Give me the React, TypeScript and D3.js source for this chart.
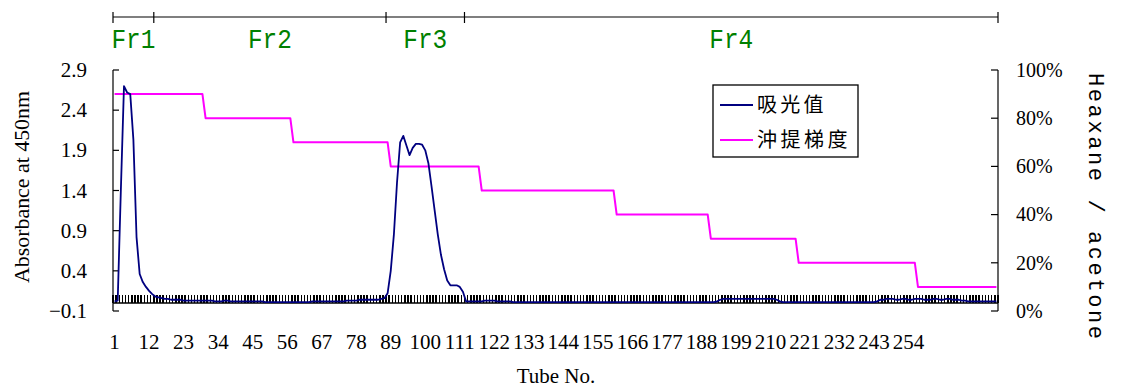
import React from "react";
import * as d3 from "d3";

// Absorbance at 450 nm for each collected tube (tube 1 .. 282)
const absorbance: number[] = [
  0.02, 0.03, 1.40, 2.70, 2.62, 2.60, 2.03, 0.82, 0.36, 0.26,
  0.20, 0.15, 0.11, 0.08, 0.07, 0.06, 0.05, 0.05, 0.04, 0.04,
  0.04, 0.04, 0.03, 0.03, 0.03, 0.03, 0.03, 0.03, 0.03, 0.03,
  0.03, 0.03, 0.02, 0.02, 0.02, 0.03, 0.03, 0.02, 0.02, 0.02,
  0.02, 0.02, 0.02, 0.02, 0.02, 0.02, 0.02, 0.02, 0.01, 0.01,
  0.01, 0.01, 0.01, 0.01, 0.01, 0.01, 0.01, 0.01, 0.01, 0.01,
  0.01, 0.01, 0.01, 0.02, 0.02, 0.02, 0.02, 0.02, 0.02, 0.02,
  0.02, 0.02, 0.02, 0.02, 0.03, 0.03, 0.03, 0.03, 0.04, 0.04,
  0.04, 0.04, 0.04, 0.04, 0.04, 0.05, 0.06, 0.12, 0.40, 0.85,
  1.50, 2.00, 2.08, 1.96, 1.84, 1.93, 1.98, 1.98, 1.97, 1.90,
  1.74, 1.45, 1.15, 0.85, 0.60, 0.42, 0.28, 0.22, 0.22, 0.22,
  0.20, 0.14, 0.02, 0.02, 0.02, 0.02, 0.02, 0.02, 0.03, 0.03,
  0.03, 0.03, 0.02, 0.02, 0.02, 0.02, 0.02, 0.01, 0.01, 0.01,
  0.01, 0.01, 0.01, 0.01, 0.01, 0.01, 0.01, 0.01, 0.01, 0.01,
  0.01, 0.01, 0.01, 0.01, 0.01, 0.01, 0.01, 0.01, 0.01, 0.01,
  0.01, 0.01, 0.01, 0.01, 0.01, 0.01, 0.01, 0.01, 0.01, 0.01,
  0.01, 0.01, 0.01, 0.01, 0.01, 0.01, 0.01, 0.01, 0.01, 0.01,
  0.01, 0.01, 0.01, 0.01, 0.01, 0.01, 0.01, 0.01, 0.01, 0.01,
  0.01, 0.01, 0.01, 0.01, 0.01, 0.01, 0.01, 0.01, 0.01, 0.01,
  0.01, 0.01, 0.02, 0.04, 0.05, 0.05, 0.05, 0.05, 0.05, 0.05,
  0.05, 0.05, 0.05, 0.05, 0.05, 0.05, 0.05, 0.05, 0.05, 0.05,
  0.05, 0.04, 0.02, 0.01, 0.01, 0.01, 0.01, 0.01, 0.01, 0.01,
  0.01, 0.01, 0.01, 0.01, 0.01, 0.01, 0.01, 0.01, 0.01, 0.01,
  0.01, 0.01, 0.01, 0.01, 0.01, 0.01, 0.01, 0.01, 0.01, 0.01,
  0.01, 0.01, 0.01, 0.02, 0.04, 0.04, 0.05, 0.05, 0.05, 0.04,
  0.04, 0.05, 0.05, 0.04, 0.04, 0.05, 0.05, 0.05, 0.04, 0.04,
  0.04, 0.05, 0.05, 0.04, 0.04, 0.05, 0.05, 0.04, 0.04, 0.04,
  0.03, 0.03, 0.02, 0.02, 0.02, 0.02, 0.02, 0.02, 0.02, 0.02,
  0.02, 0.02,
];

// Hexane share of the hexane / acetone eluent for each tube (%)
const gradient: number[] = [
  90, 90, 90, 90, 90, 90, 90, 90, 90, 90,
  90, 90, 90, 90, 90, 90, 90, 90, 90, 90,
  90, 90, 90, 90, 90, 90, 90, 90, 90, 80,
  80, 80, 80, 80, 80, 80, 80, 80, 80, 80,
  80, 80, 80, 80, 80, 80, 80, 80, 80, 80,
  80, 80, 80, 80, 80, 80, 80, 70, 70, 70,
  70, 70, 70, 70, 70, 70, 70, 70, 70, 70,
  70, 70, 70, 70, 70, 70, 70, 70, 70, 70,
  70, 70, 70, 70, 70, 70, 70, 70, 60, 60,
  60, 60, 60, 60, 60, 60, 60, 60, 60, 60,
  60, 60, 60, 60, 60, 60, 60, 60, 60, 60,
  60, 60, 60, 60, 60, 60, 60, 50, 50, 50,
  50, 50, 50, 50, 50, 50, 50, 50, 50, 50,
  50, 50, 50, 50, 50, 50, 50, 50, 50, 50,
  50, 50, 50, 50, 50, 50, 50, 50, 50, 50,
  50, 50, 50, 50, 50, 50, 50, 50, 50, 50,
  40, 40, 40, 40, 40, 40, 40, 40, 40, 40,
  40, 40, 40, 40, 40, 40, 40, 40, 40, 40,
  40, 40, 40, 40, 40, 40, 40, 40, 40, 40,
  30, 30, 30, 30, 30, 30, 30, 30, 30, 30,
  30, 30, 30, 30, 30, 30, 30, 30, 30, 30,
  30, 30, 30, 30, 30, 30, 30, 30, 20, 20,
  20, 20, 20, 20, 20, 20, 20, 20, 20, 20,
  20, 20, 20, 20, 20, 20, 20, 20, 20, 20,
  20, 20, 20, 20, 20, 20, 20, 20, 20, 20,
  20, 20, 20, 20, 20, 20, 10, 10, 10, 10,
  10, 10, 10, 10, 10, 10, 10, 10, 10, 10,
  10, 10, 10, 10, 10, 10, 10, 10, 10, 10,
  10, 10,
];

const tubeTickLabels: number[] = [
  1, 12, 23, 34, 45, 56, 67, 78, 89, 100, 111, 122,
  133, 144, 155, 166, 177, 188, 199, 210, 221, 232, 243, 254,
];

const absTicks: number[] = [-0.1, 0.4, 0.9, 1.4, 1.9, 2.4, 2.9];
const pctTicks: number[] = [0, 20, 40, 60, 80, 100];

// Pooled fractions (first and last tube)
const fractionNames: string[] = ["Fr1", "Fr2", "Fr3", "Fr4"];
const fractionFirst: number[] = [1, 14, 88, 113];
const fractionLast: number[] = [13, 87, 112, 282];

const seriesNames: string[] = ["吸光值", "沖提梯度"];

const BLUE = "#000080";
const MAGENTA = "#ff00ff";
const GREEN = "#008000";
const SERIF = "'Liberation Serif', 'Times New Roman', serif";
const MONO = "'Liberation Mono', 'Courier New', monospace";
const CJK = "'Noto Sans CJK TC', 'Noto Sans CJK SC', sans-serif";

export default function App() {
  const W = 1121;
  const H = 389;
  const left = 113;
  const right = 998;
  const top = 70;
  const bottom = 311;

  const tubes = absorbance.map((_, i) => i + 1);
  const x = d3.scaleBand<number>().domain(tubes).range([left, right]).padding(0);
  const bw = x.bandwidth();
  const cx = (t: number) => (x(t) as number) + bw / 2;

  const yAbs = d3.scaleLinear().domain([-0.1, 2.9]).range([bottom, top]);
  const yPct = d3.scaleLinear().domain([0, 100]).range([bottom, top]);
  const y0 = yAbs(0);

  const absPath = d3
    .line<number>()
    .x((_, i) => cx(tubes[i]))
    .y((d) => yAbs(d))(absorbance) as string;
  const gradPath = d3
    .line<number>()
    .x((_, i) => cx(tubes[i]))
    .y((d) => yPct(d))(gradient) as string;

  const boundaries = tubes.map((t) => x(t) as number).concat([right]);
  const fmt = d3.format(".1f");

  const topAxisY = 17;
  const fracEdges = fractionFirst.map((f, i) => ({
    name: fractionNames[i],
    x0: x(f) as number,
    x1: (x(fractionLast[i]) as number) + bw,
  }));

  return (
    <div style={{ position: "absolute", left: 0, top: 0 }}>
      <svg width={W} height={H} style={{ display: "block", background: "#fff" }}>
        {/* fraction bar */}
        <line x1={left} x2={right} y1={topAxisY} y2={topAxisY} stroke="#000" strokeWidth={1.2} />
        {[fracEdges[0].x0, ...fracEdges.map((f) => f.x1)].map((bx, i) => (
          <line key={"ft" + i} x1={bx} x2={bx} y1={topAxisY - 5} y2={topAxisY + 6} stroke="#000" strokeWidth={1.2} />
        ))}
        {fracEdges.map((f) => (
          <text
            key={f.name}
            x={(f.x0 + f.x1) / 2}
            y={48}
            textAnchor="middle"
            fontFamily={MONO}
            fontSize={28}
            fill={GREEN}
            textLength={44}
            lengthAdjust="spacingAndGlyphs"
          >
            {f.name}
          </text>
        ))}

        {/* category axis at zero with a tick per tube */}
        <line x1={left} x2={right} y1={y0} y2={y0} stroke="#000" strokeWidth={1.4} />
        <g shapeRendering="crispEdges">
          {boundaries.map((bx, i) => (
            <line key={"xt" + i} x1={bx} x2={bx} y1={y0 - 8} y2={y0} stroke="#000" strokeWidth={1.5} />
          ))}
        </g>
        {tubeTickLabels.map((t) => (
          <text key={"xl" + t} x={cx(t)} y={349} textAnchor="middle" fontFamily={SERIF} fontSize={21} fill="#000">
            {t}
          </text>
        ))}
        <text x={556} y={383} textAnchor="middle" fontFamily={SERIF} fontSize={21} fill="#000">
          Tube No.
        </text>

        {/* left axis */}
        <line x1={left} x2={left} y1={top} y2={bottom} stroke="#000" strokeWidth={1.2} />
        {absTicks.map((v) => (
          <g key={"ya" + v}>
            <line x1={left} x2={left + 6} y1={yAbs(v)} y2={yAbs(v)} stroke="#000" strokeWidth={1.2} />
            <text x={87} y={yAbs(v)} dy="0.34em" textAnchor="end" fontFamily={SERIF} fontSize={21} fill="#000">
              {fmt(v)}
            </text>
          </g>
        ))}
        <text
          transform={`translate(29, 187) rotate(-90)`}
          textAnchor="middle"
          fontFamily={SERIF}
          fontSize={21}
          fill="#000"
          textLength={192}
          lengthAdjust="spacingAndGlyphs"
        >
          Absorbance at 450nm
        </text>

        {/* right axis */}
        <line x1={right} x2={right} y1={top} y2={bottom} stroke="#000" strokeWidth={1.2} />
        {pctTicks.map((v) => (
          <g key={"yp" + v}>
            <line x1={right - 7} x2={right} y1={yPct(v)} y2={yPct(v)} stroke="#000" strokeWidth={1.2} />
            <text x={1016} y={yPct(v)} dy="0.34em" textAnchor="start" fontFamily={SERIF} fontSize={20} fill="#000">
              {v + "%"}
            </text>
          </g>
        ))}
        <text
          transform={`translate(1089, 206) rotate(90)`}
          textAnchor="middle"
          fontFamily={MONO}
          fontSize={22}
          fill="#000"
          textLength={266}
          lengthAdjust="spacing"
        >
          Heaxane / acetone
        </text>

        {/* series */}
        <path d={gradPath} fill="none" stroke={MAGENTA} strokeWidth={2} strokeLinejoin="round" />
        <path d={absPath} fill="none" stroke={BLUE} strokeWidth={1.8} strokeLinejoin="round" />

        {/* legend */}
        <rect x={713} y={85} width={145} height={72} fill="#fff" stroke="#000" strokeWidth={1.3} />
        <line x1={720} x2={753} y1={105} y2={105} stroke={BLUE} strokeWidth={1.8} />
        <text x={757} y={105} dy="0.36em" fontFamily={CJK} fontSize={20} letterSpacing={3.3} fill="#000">
          {seriesNames[0]}
        </text>
        <line x1={720} x2={753} y1={140} y2={140} stroke={MAGENTA} strokeWidth={1.8} />
        <text x={757} y={140} dy="0.36em" fontFamily={CJK} fontSize={20} letterSpacing={3.5} fill="#000">
          {seriesNames[1]}
        </text>
      </svg>
    </div>
  );
}
